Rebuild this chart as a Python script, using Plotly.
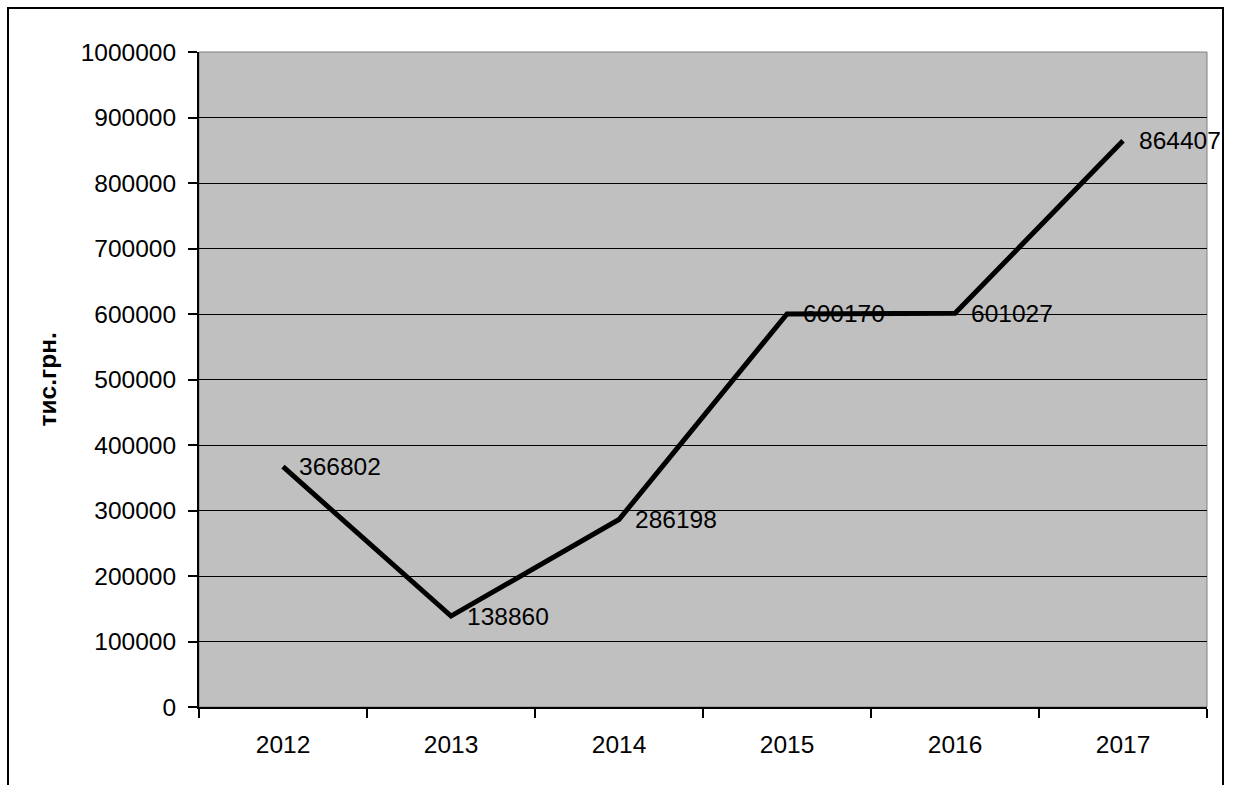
import plotly.graph_objects as go

years = ["2012", "2013", "2014", "2015", "2016", "2017"]
values = [366802, 138860, 286198, 600170, 601027, 864407]
y_title = "тис.грн."

W, H = 1233, 785
L, R, T, B = 199, 1207, 52, 707  # plot area in pixels
pw, ph = R - L, B - T


def px_x(p):
    return (p - L) / pw


def px_y(q):
    return (B - q) / ph


font = dict(family="Liberation Sans, Arial, sans-serif", size=24.5, color="black")
xpos = list(range(len(years)))

fig = go.Figure()
fig.add_trace(go.Scatter(
    x=xpos, y=values, mode="lines",
    line=dict(color="black", width=5),
    hoverinfo="skip", showlegend=False,
))

# value labels to the right of each point
for xi, v in zip(xpos, values):
    fig.add_annotation(
        x=xi, y=v, text=str(v), showarrow=False,
        xanchor="left", yanchor="middle", xshift=14,
        font=font,
    )

# y-axis title
fig.add_annotation(
    xref="paper", yref="paper", x=px_x(47), y=0.5,
    text="<b>" + y_title + "</b>", textangle=-90, showarrow=False,
    xanchor="center", yanchor="middle", font=font,
)

# plot area frame (grey top/right) and outer chart border
fig.add_shape(type="rect", xref="paper", yref="paper", x0=0, x1=1, y0=0, y1=1,
              line=dict(color="#808080", width=1), layer="below")
fig.add_shape(type="rect", xref="paper", yref="paper",
              x0=px_x(8), x1=px_x(1223), y0=px_y(800), y1=px_y(8),
              line=dict(color="black", width=2))

fig.update_layout(
    width=W, height=H,
    margin=dict(l=L, r=W - R, t=T, b=H - B, pad=0),
    paper_bgcolor="white", plot_bgcolor="#C0C0C0",
    font=font,
    xaxis=dict(
        range=[-0.5, len(years) - 0.5],
        tickmode="array", tickvals=xpos, ticktext=years, ticks="",
        minor=dict(tickmode="linear", tick0=-0.5, dtick=1, ticks="outside",
                   ticklen=9, tickcolor="black", tickwidth=1.5, showgrid=False),
        showline=True, linecolor="black", linewidth=2,
        showgrid=False, zeroline=False, tickfont=font,
        ticklabelstandoff=15,
    ),
    yaxis=dict(
        range=[0, 1000000], dtick=100000, tickformat="d",
        ticks="outside", ticklen=9, tickcolor="black", tickwidth=1.5,
        showline=True, linecolor="black", linewidth=2,
        showgrid=True, gridcolor="black", gridwidth=1, zeroline=False,
        tickfont=font, ticklabelstandoff=7,
    ),
)

fig.write_html("out.html")
